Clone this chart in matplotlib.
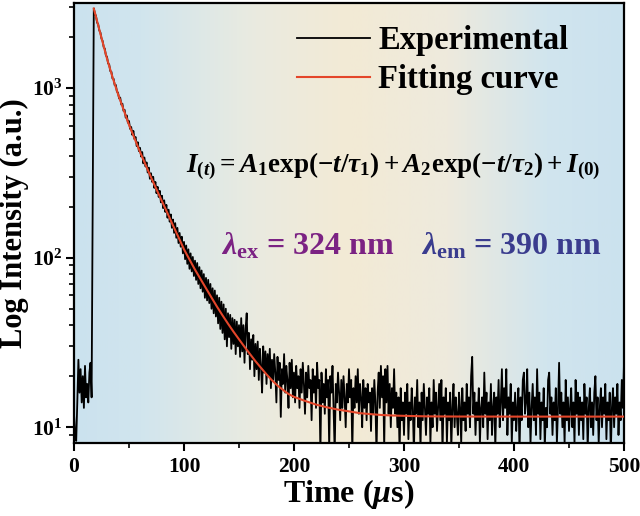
import numpy as np
import matplotlib
matplotlib.use('Agg')
import matplotlib.pyplot as plt
from matplotlib.colors import LinearSegmentedColormap
from matplotlib.ticker import FixedLocator, FixedFormatter, LogLocator, MultipleLocator, NullFormatter

# ---------------- data ----------------
time_us = np.arange(0, 501)  # 1 µs channels

intensity = [
    # 0-16 (before excitation)
    12, 9, 8.3, 14, 25, 16, 22, 14, 20, 13, 23, 15, 18, 14, 21, 24, 15,
    # 17
    210,
    # 18-60
    2950, 2760, 2660, 2440, 2380, 2190, 2130, 1960, 1900, 1745, 1710, 1560, 1530,
    1400, 1380, 1260, 1250, 1140, 1135, 1040, 1045, 955, 940, 870, 880, 800, 810,
    735, 745, 670, 690, 625, 640, 575, 590, 530, 560, 500, 515, 455, 480, 425, 445,
    # 61-100
    395, 420, 360, 390, 345, 365, 318, 340, 292, 315, 280, 300, 258, 280, 240, 262,
    228, 248, 212, 232, 196, 218, 186, 205, 172, 192, 163, 180, 150, 168, 140, 160,
    131, 150, 122, 140, 116, 133, 106, 124,
    # 101-130
    98, 118, 92, 112, 86, 106, 83, 101, 78, 96, 74, 93, 70, 88, 66, 84, 63, 80, 58, 76,
    56, 74, 54, 70, 50, 66, 47, 64, 45, 60,
    # 131-150
    41, 58, 38, 55, 36, 53, 33, 50, 30, 47, 34, 46, 29, 44, 31, 43, 27, 42, 30, 40,
    # 151-200
    26, 44, 28, 40, 24, 38, 47, 27, 36, 22,
    33, 25, 35, 20, 31, 22, 32, 19, 29, 23,
    16, 30, 21, 28, 18, 27, 20, 29, 17, 25,
    19, 27, 21, 14, 26, 19, 24, 11.5, 22, 18,
    27, 16, 23, 19, 13, 24, 17, 25, 15, 21,
    # 201-250
    14, 23, 17, 20, 13, 22, 16, 24, 18, 12,
    21, 15, 23, 17, 19, 11, 22, 16, 20, 13,
    24, 17, 19, 7, 21, 14, 18, 12, 22, 15,
    19, 7.5, 20, 16, 23, 13, 7, 18, 14, 21,
    16, 11, 19, 13, 20, 15, 10, 18, 14, 22,
    # 251-300
    15, 19, 7, 17, 13, 20, 14, 22, 12, 18,
    15, 10, 19, 13, 17, 11, 18, 14, 16, 9.5,
    17, 12, 19, 14, 7, 16, 21, 13, 23, 15,
    20, 7.5, 22, 14, 23, 12, 18, 10, 17, 13,
    22, 12, 16, 10, 15, 7, 17, 11, 14, 9,
    # 301-500
    16, 12, 18, 8.5, 14, 11, 17, 13, 7, 15,
    12, 19, 10, 14, 7.5, 16, 11, 18, 13, 9,
    15, 12, 17, 8, 14, 10, 19, 12, 16, 9.5,
    13, 18, 11, 19, 7, 15, 12, 17, 8, 14,
    11, 16, 7.5, 13, 18, 10, 15, 12, 9, 16,
    13, 8, 17, 11, 14, 9.5, 18, 12, 15, 10,
    20, 26, 12, 16, 9, 14, 11, 17, 8, 13,
    15, 10, 21, 12, 16, 8.5, 14, 11, 18, 9,
    13, 16, 7.5, 15, 12, 19, 10, 14, 22, 11,
    17, 13, 22, 9, 15, 12, 18, 8, 14, 11,
    16, 9.5, 13, 17, 7, 15, 11, 19, 21, 12,
    14, 22, 10, 16, 8, 13, 18, 11, 15, 9,
    22, 12, 16, 8.5, 14, 11, 17, 7.5, 13, 10,
    19, 21, 12, 15, 9, 14, 11, 17, 8, 13,
    24, 12, 16, 10, 14, 8, 19, 11, 15, 9.5,
    13, 17, 10, 14, 8, 19, 12, 16, 9, 15,
    11, 14, 8.5, 18, 12, 15, 7.5, 13, 17, 10,
    14, 9, 16, 20, 11, 15, 8, 13, 17, 10,
    15, 12, 18, 8.5, 14, 11, 16, 7, 13, 17,
    10, 15, 12, 18, 9, 14, 11, 19, 13, 24,
]

fit_time = [18, 20, 25, 30, 35, 40, 45, 50, 55, 60, 65, 70, 75, 80, 85, 90, 95, 100,
            105, 110, 115, 120, 125, 130, 135, 140, 145, 150, 155, 160, 165, 170, 175,
            180, 185, 190, 195, 200, 210, 220, 230, 240, 250, 260, 270, 280, 290, 300,
            320, 350, 400, 450, 500]
fit_intensity = [2950, 2630, 1980, 1494, 1162, 923, 749, 608, 506, 421, 354, 298, 253,
                 215, 183, 155, 132, 112, 97.5, 85, 74.9, 66, 58.2, 51.4, 45.7, 40.8,
                 36.6, 33.0, 29.8, 27.0, 24.5, 22.4, 20.5, 18.9, 17.6, 16.6, 15.7, 15.1,
                 14.3, 13.6, 13.1, 12.7, 12.4, 12.1, 11.94, 11.8, 11.72, 11.67, 11.59,
                 11.56, 11.55, 11.55, 11.55]

legend_labels = ['Experimental', 'Fitting curve']
x_ticks = [0, 100, 200, 300, 400, 500]
y_ticks = [10, 100, 1000]
y_tick_labels = [r'$10^{1}$', r'$10^{2}$', r'$10^{3}$']

# ---------------- style ----------------
plt.rcParams['font.family'] = ['Liberation Serif', 'DejaVu Serif']
plt.rcParams['font.weight'] = 'bold'
plt.rcParams['mathtext.fontset'] = 'custom'
plt.rcParams['mathtext.rm'] = 'Liberation Serif:bold'
plt.rcParams['mathtext.bf'] = 'Liberation Serif:bold'
plt.rcParams['mathtext.it'] = 'Liberation Serif:italic:bold'
try:
    plt.rcParams['mathtext.bfit'] = 'Liberation Serif:italic:bold'
except KeyError:
    pass

fig = plt.figure(figsize=(6.4, 5.16), dpi=100)
pos = [74 / 640, 1 - 443 / 516, 550 / 640, 440 / 516]

bg = fig.add_axes(pos, zorder=0)
cmap = LinearSegmentedColormap.from_list(
    'bg', [(0.0, '#cbe2ee'), (0.12, '#d1e5ee'), (0.33, '#eaebe0'), (0.5, '#f3ead5'),
           (0.68, '#eeeadd'), (0.86, '#d1e5ee'), (1.0, '#cbe2ee')])
bg.imshow(np.linspace(0, 1, 512).reshape(1, -1), aspect='auto', cmap=cmap,
          extent=[0, 1, 0, 1])
bg.axis('off')

ax = fig.add_axes(pos, zorder=1)
ax.patch.set_alpha(0)

ax.plot(time_us, intensity, color='black', lw=1.3, label=legend_labels[0], zorder=2)
ax.plot(fit_time, fit_intensity, color='#e4462a', lw=1.5, label=legend_labels[1], zorder=3)

ax.set_yscale('log')
ax.set_xlim(0, 500)
ax.set_ylim(8.07, 3180)

ax.xaxis.set_major_locator(FixedLocator(x_ticks))
ax.xaxis.set_minor_locator(MultipleLocator(50))
ax.yaxis.set_major_locator(FixedLocator(y_ticks))
ax.yaxis.set_major_formatter(FixedFormatter(y_tick_labels))
ax.yaxis.set_minor_locator(LogLocator(base=10, subs=np.arange(2, 10)))
ax.yaxis.set_minor_formatter(NullFormatter())

ax.tick_params(axis='both', which='major', direction='out', length=6, width=1.5,
               labelsize=15.5)
ax.tick_params(axis='both', which='minor', direction='out', length=3.5, width=1.2)
ax.tick_params(axis='x', pad=4)
ax.tick_params(axis='y', pad=2)
for lab in ax.get_xticklabels() + ax.get_yticklabels():
    lab.set_fontweight('bold')
for sp in ax.spines.values():
    sp.set_linewidth(1.6)

ax.set_xlabel(r'Time ($\mu$s)', fontsize=23, fontweight='bold', labelpad=0)
ax.set_ylabel('Log Intensity (a.u.)', fontsize=22, fontweight='bold', labelpad=2)

leg = ax.legend(loc='upper left', bbox_to_anchor=(0.405, 0.95), frameon=False,
                fontsize=23.5, handlelength=2.24, handletextpad=0.25, labelspacing=0.26,
                borderpad=0, borderaxespad=0)
for t in leg.get_texts():
    t.set_fontweight('bold')

ax.text(0.58, 0.63,
        r'$I_{(t)} = A_1\mathrm{exp}(-t/\tau_1) + A_2\mathrm{exp}(-t/\tau_2) + I_{(0)}$',
        transform=ax.transAxes, ha='center', va='center', fontsize=19.5)
ax.text(0.268, 0.447, r'$\lambda_{\mathrm{ex}}$ = 324 nm', transform=ax.transAxes,
        ha='left', va='center', fontsize=23, fontweight='bold', color='#7b2283')
ax.text(0.96, 0.447, r'$\lambda_{\mathrm{em}}$ = 390 nm', transform=ax.transAxes,
        ha='right', va='center', fontsize=23, fontweight='bold', color='#3a3c8e')

fig.savefig('out.png', dpi=100)
